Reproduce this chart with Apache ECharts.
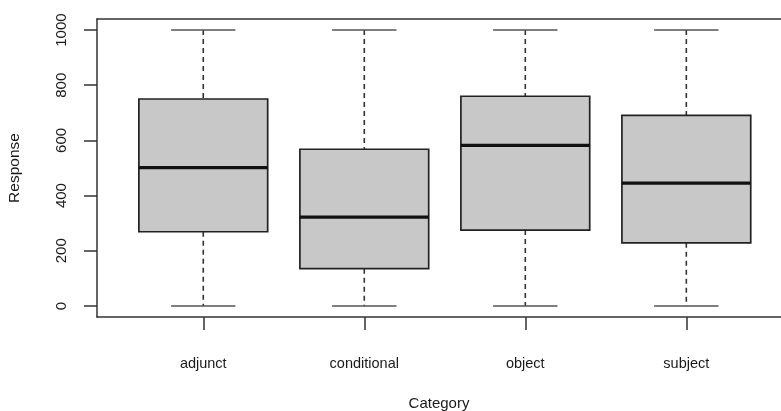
<!DOCTYPE html>
<html>
<head>
<meta charset="utf-8">
<script src="https://cdn.jsdelivr.net/npm/echarts@6/dist/echarts.min.js"></script>
<style>html,body{margin:0;padding:0;background:#fff}#c{width:781px;height:411px}</style>
</head>
<body>
<div id="c"></div>
<script>
const categories = ['adjunct', 'conditional', 'object', 'subject'];
const whiskerLow = [0, 0, 0, 0];
const quartile1 = [269, 135, 275, 229];
const medians = [501, 322, 582, 445];
const quartile3 = [750, 568, 760, 691];
const whiskerHigh = [1000, 1000, 1000, 1000];
const yTicks = [0, 200, 400, 600, 800, 1000];

const rows = categories.map((c, i) => [i + 1, whiskerLow[i], quartile1[i], medians[i], quartile3[i], whiskerHigh[i]]);

const chart = echarts.init(document.getElementById('c'), null, {renderer: 'canvas'});
const font = 'Liberation Sans, Arial, Helvetica, sans-serif';
const X_MIN = 0.34, X_MAX = 4.588;
const frameLine = {show: true, onZero: false, lineStyle: {color: '#333', width: 1.5}};

function renderItem(params, api) {
  const x = api.value(0), lo = api.value(1), q1 = api.value(2), med = api.value(3), q3 = api.value(4), hi = api.value(5);
  const hb = 0.4, hc = 0.2;
  const tl = api.coord([x - hb, q3]);
  const br = api.coord([x + hb, q1]);
  const mL = api.coord([x - hb, med]);
  const mR = api.coord([x + hb, med]);
  const cTop = api.coord([x, hi]);
  const cQ3 = api.coord([x, q3]);
  const cQ1 = api.coord([x, q1]);
  const cBot = api.coord([x, lo]);
  const capTL = api.coord([x - hc, hi]), capTR = api.coord([x + hc, hi]);
  const capBL = api.coord([x - hc, lo]), capBR = api.coord([x + hc, lo]);
  const wStyle = {stroke: '#333', lineWidth: 1.6, lineDash: [5, 4]};
  const capStyle = {stroke: '#555', lineWidth: 1.6};
  return {
    type: 'group',
    children: [
      {type: 'line', shape: {x1: cTop[0], y1: cTop[1], x2: cQ3[0], y2: cQ3[1]}, style: wStyle},
      {type: 'line', shape: {x1: cQ1[0], y1: cQ1[1], x2: cBot[0], y2: cBot[1]}, style: wStyle},
      {type: 'line', shape: {x1: capTL[0], y1: capTL[1], x2: capTR[0], y2: capTR[1]}, style: capStyle},
      {type: 'line', shape: {x1: capBL[0], y1: capBL[1], x2: capBR[0], y2: capBR[1]}, style: capStyle},
      {type: 'rect', shape: {x: tl[0], y: tl[1], width: br[0] - tl[0], height: br[1] - tl[1]},
        style: {fill: '#c8c8c8', stroke: '#222', lineWidth: 1.7}},
      {type: 'line', shape: {x1: mL[0], y1: mL[1], x2: mR[0], y2: mR[1]}, style: {stroke: '#111', lineWidth: 3.2}}
    ]
  };
}

chart.setOption({
  animation: false,
  backgroundColor: '#fff',
  grid: {left: 97, top: 19, right: 0, bottom: 94, show: false, containLabel: false, outerBoundsMode: 'none'},
  xAxis: [{
    type: 'value', min: X_MIN, max: X_MAX, position: 'bottom',
    name: 'Category', nameLocation: 'middle', nameGap: 79,
    nameTextStyle: {fontFamily: font, fontSize: 15, color: '#1a1a1a'},
    splitLine: {show: false},
    axisLine: frameLine,
    axisTick: {show: true, length: 13, customValues: [1, 2, 3, 4], lineStyle: {color: '#333', width: 1.5}},
    axisLabel: {customValues: [1, 2, 3, 4], margin: 39, fontFamily: font, fontSize: 14.5, color: '#1a1a1a',
      formatter: v => categories[Math.round(v) - 1]}
  }, {
    type: 'value', min: X_MIN, max: X_MAX, position: 'top',
    splitLine: {show: false}, axisLine: frameLine, axisTick: {show: false}, axisLabel: {show: false}
  }],
  yAxis: {
    type: 'value', min: -40, max: 1040, position: 'left',
    name: 'Response', nameLocation: 'middle', nameGap: 74,
    nameTextStyle: {fontFamily: font, fontSize: 15.5, color: '#1a1a1a'},
    splitLine: {show: false},
    axisLine: frameLine,
    axisTick: {show: true, length: 13, customValues: yTicks, lineStyle: {color: '#333', width: 1.5}},
    axisLabel: {customValues: yTicks, rotate: 90, margin: 28, fontFamily: font, fontSize: 15, color: '#1a1a1a',
      formatter: v => String(v)}
  },
  series: [{
    type: 'custom',
    renderItem: renderItem,
    encode: {x: 0, y: [1, 2, 3, 4, 5]},
    data: rows
  }]
});
</script>
</body>
</html>
